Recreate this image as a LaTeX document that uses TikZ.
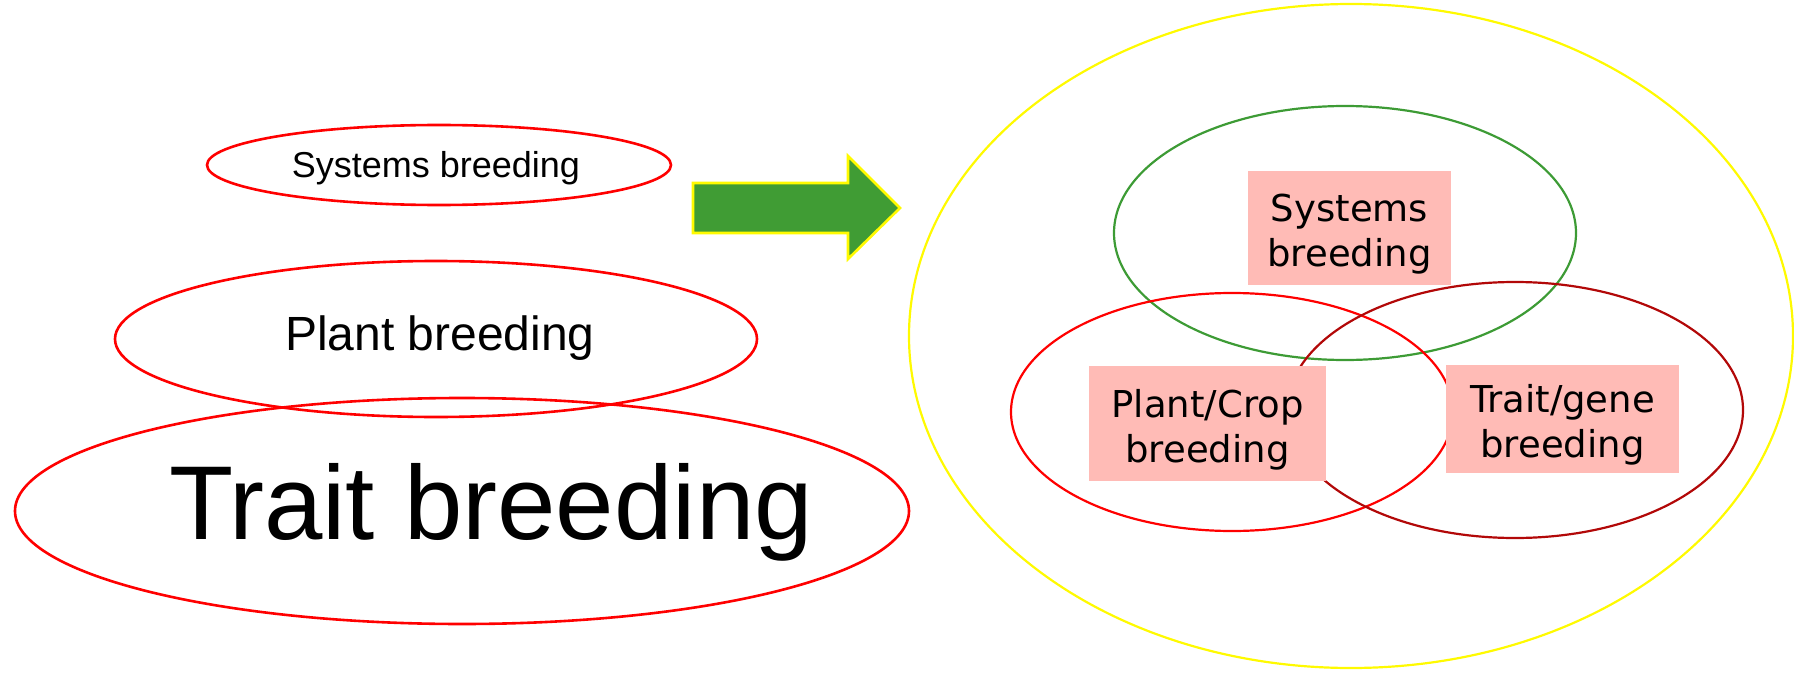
\documentclass[tikz,border=0pt]{standalone}
\usepackage{fontspec}
\setmainfont{Liberation Sans}
\newfontfamily\dejavu{DejaVu Sans}
\usetikzlibrary{shapes.geometric}
\definecolor{arrowgreen}{RGB}{64,156,52}
\definecolor{ringgreen}{RGB}{61,155,53}
\definecolor{ringdark}{RGB}{178,8,8}
\definecolor{ringyellow}{RGB}{255,250,0}
\definecolor{boxpink}{RGB}{255,187,182}
\begin{document}
\begin{tikzpicture}[x=0.5pt,y=-0.5pt,
	oval/.style={ellipse,draw=red,line width=1.3pt,inner sep=0pt},
	ring/.style={ellipse,line width=1.1pt,inner sep=0pt},
	tag/.style={fill=boxpink,inner sep=0pt,align=center,font=\dejavu\fontsize{18.5}{22.5}\selectfont}]
	\useasboundingbox (0,0) rectangle (1794,674);
		% old view: three separate ellipses
			\node[oval,minimum width=232pt,minimum height=40pt] (sysoval) at (439,165) {};
			\node[oval,minimum width=321pt,minimum height=78pt] (plantoval) at (436,339) {};
			\node[oval,minimum width=447pt,minimum height=113pt] (traitoval) at (462,511) {};
			\node[anchor=base,font=\fontsize{18}{20}\selectfont] (systxt) at (436,177) {Systems breeding};
			\node[anchor=base,font=\fontsize{24}{26}\selectfont] (planttxt) at (440,350) {Plant breeding};
			\node[anchor=base,font=\fontsize{52.5}{56}\selectfont] (traittxt) at (491,539) {Trait breeding};
		% block arrow
			\draw[fill=arrowgreen,draw=ringyellow,line width=1.3pt]
				(693,183) -- (848,183) -- (848,156) -- (900,208) -- (848,259) -- (848,233) -- (693,233) -- cycle;
		% new view: overlapping ellipses inside one ring
			\node[ring,draw=ringyellow,minimum width=442pt,minimum height=332pt] (outer) at (1351,336) {};
			\node[ring,draw=ringgreen,minimum width=231pt,minimum height=127pt] (sysring) at (1345,233) {};
			\node[ring,draw=red,minimum width=221pt,minimum height=119pt] (cropring) at (1232,412) {};
			\node[ring,draw=ringdark,minimum width=228pt,minimum height=128pt] (genering) at (1515,410) {};
		% labels
			\node[tag,minimum width=101.5pt,minimum height=57pt] (sysbox) at (1349.5,228) {\rule{0pt}{20pt}Systems\\breeding};
			\node[tag,minimum width=118.5pt,minimum height=57.5pt] (cropbox) at (1207.5,423.5) {\rule{0pt}{20pt}Plant/Crop\\breeding};
			\node[tag,minimum width=116.5pt,minimum height=54pt] (genebox) at (1562.5,419) {\rule{0pt}{20pt}Trait/gene\\breeding};
\end{tikzpicture}
\end{document}
